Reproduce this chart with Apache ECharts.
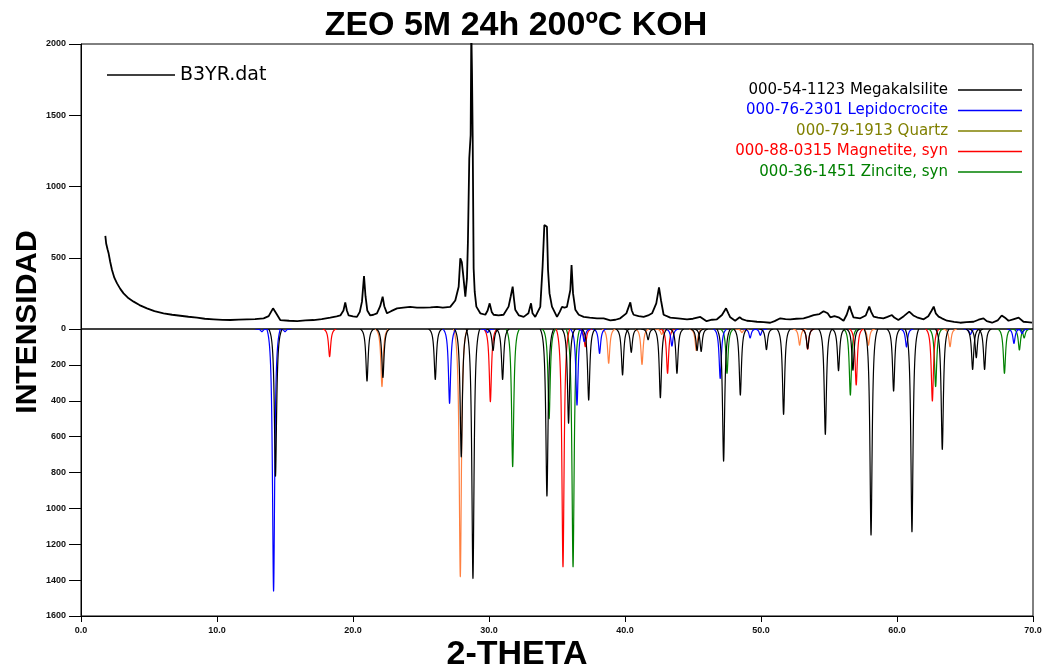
<!DOCTYPE html>
<html>
<head>
<meta charset="utf-8">
<script src="https://cdn.jsdelivr.net/npm/echarts@6/dist/echarts.min.js"></script>
<style>
  html, body { margin: 0; padding: 0; background: #fff; }
  #chart { width: 1047px; height: 670px; }
</style>
</head>
<body>
<div id="chart"></div>
<script>
// Measured diffractogram B3YR.dat: 2-theta (deg) and counts
const obsTheta = [
  1.79, 1.85, 1.95, 2.03, 2.15, 2.28, 2.45, 2.65, 2.9, 3.13, 3.5, 3.87, 4.3, 4.85, 5.4, 6.07, 6.7, 7.3, 7.9, 8.53,
  9.1, 9.75, 10.4, 10.98, 11.6, 12.2, 12.8, 13.43, 13.8, 14.12, 14.35, 14.65, 15.3, 15.9, 16.5, 17.1, 17.7, 18.33, 18.8, 19.07,
  19.3, 19.43, 19.55, 19.68, 20.0, 20.29, 20.5, 20.66, 20.81, 20.92, 21.05, 21.27, 21.5, 21.76, 22.0, 22.18, 22.3, 22.5, 22.8, 23.24,
  23.7, 24.2, 24.7, 25.19, 25.7, 26.18, 26.6, 27.15, 27.52, 27.77, 27.89, 28.0, 28.09, 28.26, 28.38, 28.45, 28.55, 28.65, 28.7, 28.75,
  28.8, 28.87, 28.95, 29.07, 29.36, 29.73, 29.9, 30.05, 30.2, 30.34, 30.7, 31.07, 31.44, 31.6, 31.74, 31.85, 31.93, 32.2, 32.55, 32.9,
  33.09, 33.2, 33.4, 33.77, 33.94, 34.07, 34.26, 34.34, 34.45, 34.63, 35.0, 35.2, 35.37, 35.55, 35.73, 35.98, 36.07, 36.18, 36.35, 36.6,
  36.96, 37.4, 37.94, 38.43, 38.92, 39.3, 39.65, 40.1, 40.39, 40.5, 40.63, 41.0, 41.37, 41.7, 41.99, 42.3, 42.5, 42.65, 42.84, 43.33,
  43.9, 44.56, 45.0, 45.54, 46.0, 46.4, 46.76, 47.13, 47.43, 47.6, 47.74, 48.1, 48.43, 48.6, 48.97, 49.3, 49.7, 50.2, 50.68, 51.0,
  51.42, 51.8, 52.15, 52.6, 53.13, 53.5, 53.87, 54.3, 54.6, 54.73, 54.9, 55.1, 55.4, 55.7, 56.07, 56.3, 56.51, 56.65, 56.8, 57.3,
  57.7, 57.96, 58.1, 58.28, 58.6, 59.0, 59.3, 59.63, 59.8, 60.1, 60.5, 60.9, 61.2, 61.47, 61.96, 62.3, 62.55, 62.7, 62.85, 63.06,
  63.3, 63.68, 64.2, 64.65, 65.1, 65.63, 66.0, 66.36, 66.6, 66.99, 67.4, 67.7, 67.84, 68.0, 68.2, 68.6, 68.94, 69.3, 69.6, 69.93
];
const obsCounts = [
  653, 600, 560, 531, 470, 414, 360, 320, 280, 250, 215, 192, 168, 145, 125, 110, 100, 93, 86, 80,
  72, 68, 64, 63, 66, 68, 70, 75, 90, 145, 110, 63, 58, 55, 60, 63, 70, 80, 88, 95,
  130, 187, 130, 95, 88, 85, 120, 192, 372, 230, 130, 95, 100, 110, 160, 227, 160, 110, 125, 145,
  150, 155, 150, 150, 152, 155, 150, 155, 200, 297, 496, 470, 391, 227, 355, 613, 1198, 1360, 2100, 1800,
  1350, 426, 260, 157, 110, 100, 130, 180, 120, 100, 95, 100, 157, 230, 297, 200, 135, 95, 85, 110,
  180, 110, 85, 155, 437, 730, 718, 414, 250, 157, 85, 120, 155, 150, 155, 274, 449, 250, 135, 100,
  85, 80, 75, 75, 60, 65, 75, 110, 187, 130, 100, 90, 85, 95, 110, 180, 292, 200, 100, 80,
  75, 68, 72, 85, 55, 65, 68, 98, 145, 110, 82, 58, 82, 70, 58, 55, 51, 48, 44, 55,
  75, 70, 68, 72, 75, 85, 98, 105, 125, 138, 110, 82, 90, 82, 58, 100, 161, 120, 82, 75,
  95, 157, 120, 87, 80, 75, 85, 98, 80, 63, 90, 122, 95, 82, 68, 90, 130, 157, 110, 87,
  75, 58, 50, 44, 48, 51, 65, 75, 55, 44, 60, 95, 105, 75, 58, 70, 80, 51, 48, 44
];

// Reference patterns: [2-theta, intensity] for each phase
const megakalsilitePeaks = [
  [14.3, 820], [21.03, 290], [22.2, 270], [26.05, 281], [27.96, 712], [28.82, 1390], [30.3, 120], [31.0, 281],
  [34.26, 931], [35.85, 525], [37.33, 396], [39.82, 256], [40.46, 130], [41.7, 60], [42.6, 383], [43.82, 247],
  [45.3, 120], [45.6, 125], [47.25, 736], [48.48, 368], [50.4, 115], [51.66, 476], [53.43, 110], [54.73, 587],
  [55.7, 232], [56.76, 230], [58.09, 1148], [59.75, 346], [61.1, 1130], [63.33, 671], [65.56, 225], [65.83, 160], [66.44, 225]
];
const lepidocrocitePeaks = [
  [13.3, 15], [14.16, 1460], [15.0, 15], [27.1, 414], [29.9, 20], [36.47, 424], [37.0, 70], [38.13, 136],
  [43.45, 95], [47.0, 275], [49.2, 50], [49.95, 35], [60.7, 100], [65.4, 30], [68.6, 80], [69.2, 25]
];
const quartzPeaks = [];
const magnetitePeaks = [
  [18.28, 154], [30.1, 405], [35.44, 1325], [37.08, 99], [43.13, 247], [53.43, 113], [57.0, 312], [62.6, 401]
];
const zincitePeaks = [
  [31.74, 767], [34.42, 500], [36.18, 1325], [47.5, 247], [56.57, 368], [62.84, 321], [67.9, 247], [69.0, 117], [69.35, 50]
];
const unlistedPeaks = [
  [22.13, 321], [27.89, 1380], [38.8, 191], [41.25, 197], [42.7, 30], [45.24, 120], [48.6, 20], [52.84, 90],
  [57.9, 90], [63.9, 99]
];

const xTicks = { min: 0, max: 70, interval: 10 };
const yTopTicks = { min: 0, max: 2000, interval: 500 };
const yBottomTicks = { min: 0, max: 1600, interval: 200 };

const obsData = obsTheta.map((t, i) => [t, obsCounts[i]]);

// Peak outline drawn downward around each reference position
const HALF_WIDTH = 0.1;
const SPAN = 0.5;
const lorentz = d => 1 / (1 + (d / HALF_WIDTH) * (d / HALF_WIDTH));
const L_END = lorentz(SPAN);
function renderPeak(params, api) {
  const pos = api.value(0);
  const h = api.value(1);
  const pts = [];
  const n = 30;
  for (let i = -n; i <= n; i++) {
    const d = SPAN * Math.sign(i) * Math.pow(Math.abs(i) / n, 2);
    const f = (lorentz(d) - L_END) / (1 - L_END);
    pts.push(api.coord([pos + d, h * f]));
  }
  return {
    type: 'polyline',
    shape: { points: pts },
    style: { stroke: api.visual('color'), fill: null, lineWidth: 1.2 }
  };
}
function peakSeries(name, data, color) {
  return {
    name: name,
    type: 'custom',
    xAxisIndex: 1,
    yAxisIndex: 1,
    clip: true,
    itemStyle: { color: color },
    encode: { x: 0, y: 1 },
    renderItem: renderPeak,
    data: data
  };
}

const FONT = '"Liberation Sans", Arial, sans-serif';
const tickLabel = { fontSize: 9, fontFamily: FONT, color: '#111', fontWeight: 'bold' };
const plainNumber = v => String(v);

const chart = echarts.init(document.getElementById('chart'), null, { renderer: 'canvas' });
chart.setOption({
  animation: false,
  backgroundColor: '#fff',
  graphic: [
    { type: 'text', x: 516, y: 26, style: { text: 'ZEO 5M 24h 200ºC KOH', font: 'bold 34px ' + FONT, fill: '#000', textAlign: 'center', textVerticalAlign: 'middle' } },
    { type: 'text', x: 28, y: 322, rotation: Math.PI / 2, style: { text: 'INTENSIDAD', font: 'bold 30px ' + FONT, fill: '#000', textAlign: 'center', textVerticalAlign: 'middle' } },
    { type: 'text', x: 517, y: 655, style: { text: '2-THETA', font: 'bold 34px ' + FONT, fill: '#000', textAlign: 'center', textVerticalAlign: 'middle' } }
  ],
  legend: [
    {
      data: ['B3YR.dat'],
      left: 102, top: 60,
      icon: 'rect', itemWidth: 68, itemHeight: 1.5,
      selectedMode: false,
      textStyle: { fontSize: 19, fontFamily: '"DejaVu Sans", sans-serif', color: '#000', lineHeight: 20 }
    },
    {
      data: [
        { name: '000-54-1123 Megakalsilite', textStyle: { color: '#000000' } },
        { name: '000-76-2301 Lepidocrocite', textStyle: { color: '#0000ff' } },
        { name: '000-79-1913 Quartz', textStyle: { color: '#808000' } },
        { name: '000-88-0315 Magnetite, syn', textStyle: { color: '#ff0000' } },
        { name: '000-36-1451 Zincite, syn', textStyle: { color: '#008000' } }
      ],
      orient: 'vertical',
      align: 'right',
      right: 20, top: 77,
      itemGap: 4.5,
      icon: 'rect', itemWidth: 64, itemHeight: 1.5,
      selectedMode: false,
      textStyle: { fontSize: 15, fontFamily: '"DejaVu Sans", sans-serif', lineHeight: 16, padding: [0, 5, 0, 0] }
    }
  ],
  grid: [
    { left: 81, right: 14, top: 44, height: 285, show: true, borderColor: '#000', borderWidth: 1, backgroundColor: 'transparent' },
    { left: 81, right: 14, top: 329, height: 287, show: true, borderColor: '#000', borderWidth: 1, backgroundColor: 'transparent' }
  ],
  xAxis: [
    { type: 'value', gridIndex: 0, min: xTicks.min, max: xTicks.max, interval: xTicks.interval, show: false },
    {
      type: 'value', gridIndex: 1, min: xTicks.min, max: xTicks.max, interval: xTicks.interval,
      axisLine: { onZero: false, lineStyle: { color: '#000', width: 1 } },
      axisTick: { length: 6, lineStyle: { color: '#000' } },
      axisLabel: Object.assign({ margin: 10, formatter: v => v.toFixed(1) }, tickLabel),
      splitLine: { show: false }
    }
  ],
  yAxis: [
    {
      type: 'value', gridIndex: 0, min: yTopTicks.min, max: yTopTicks.max, interval: yTopTicks.interval,
      axisLine: { show: true, onZero: false, lineStyle: { color: '#000', width: 1 } },
      axisTick: { show: true, length: 12, lineStyle: { color: '#000' } },
      axisLabel: Object.assign({ margin: 15, formatter: plainNumber }, tickLabel),
      splitLine: { show: false }
    },
    {
      type: 'value', gridIndex: 1, inverse: true, min: yBottomTicks.min, max: yBottomTicks.max, interval: yBottomTicks.interval,
      axisLine: { show: true, onZero: false, lineStyle: { color: '#000', width: 1 } },
      axisTick: { show: true, length: 12, lineStyle: { color: '#000' } },
      axisLabel: Object.assign({ margin: 15, showMinLabel: false, formatter: plainNumber }, tickLabel),
      splitLine: { show: false }
    }
  ],
  series: [
    {
      name: 'B3YR.dat',
      type: 'line',
      xAxisIndex: 0,
      yAxisIndex: 0,
      data: obsData,
      showSymbol: false,
      symbol: 'none',
      clip: true,
      lineStyle: { color: '#000', width: 1.8 },
      itemStyle: { color: '#000' }
    },
    peakSeries('Fase no listada', unlistedPeaks, '#ff8040'),
    peakSeries('000-36-1451 Zincite, syn', zincitePeaks, '#008000'),
    peakSeries('000-88-0315 Magnetite, syn', magnetitePeaks, '#ff0000'),
    peakSeries('000-79-1913 Quartz', quartzPeaks, '#808000'),
    peakSeries('000-76-2301 Lepidocrocite', lepidocrocitePeaks, '#0000ff'),
    peakSeries('000-54-1123 Megakalsilite', megakalsilitePeaks, '#000000')
  ]
});
</script>
</body>
</html>
